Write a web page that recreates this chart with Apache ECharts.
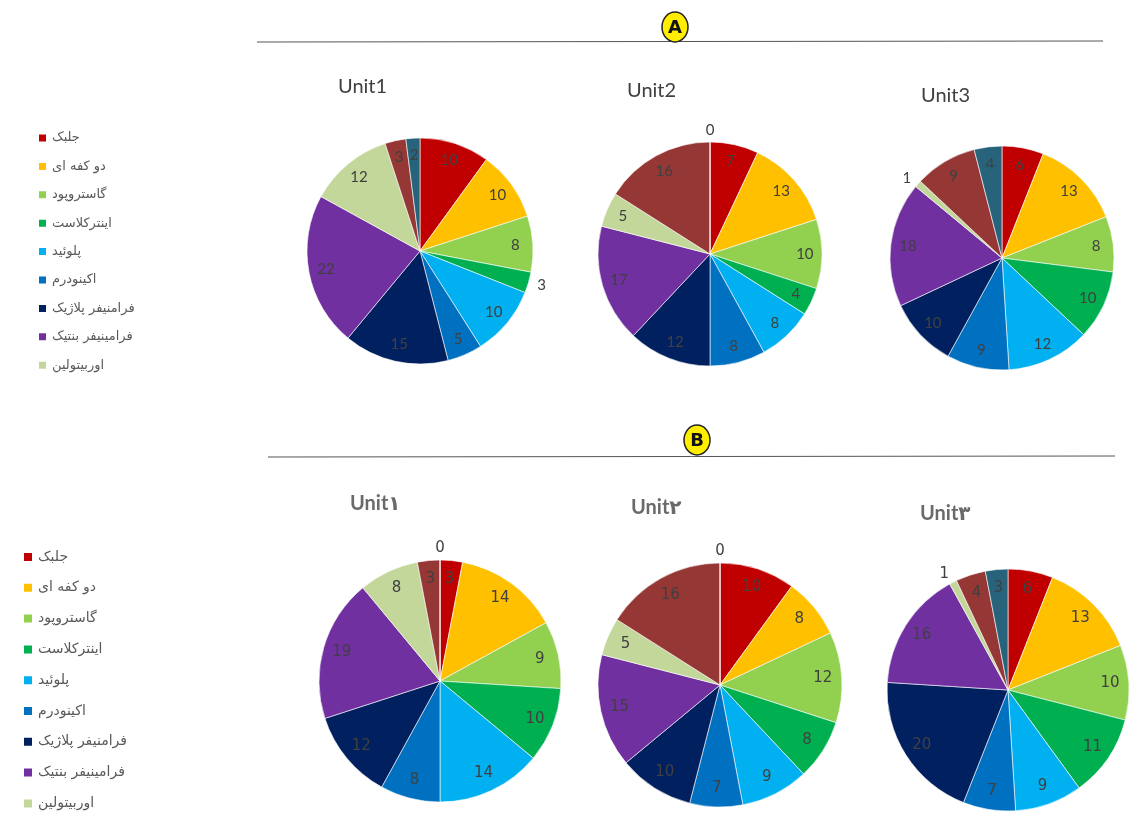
<!DOCTYPE html>
<html>
<head>
<meta charset="utf-8">
<script src="https://cdn.jsdelivr.net/npm/echarts@6/dist/echarts.min.js"></script>
<style>
  html, body { margin: 0; padding: 0; background: #fff; }
  #chart { width: 1143px; height: 813px; }
</style>
</head>
<body>
<div id="chart"></div>
<script>
// legend names (9 shown) + two unnamed slices that appear only in the pies
const categories = [
  'جلبک',
  'دو کفه ای',
  'گاستروپود',
  'اینترکلاست',
  'پلوئید',
  'اکینودرم',
  'فرامنیفر پلاژیک',
  'فرامینیفر بنتیک',
  'اوربیتولین',
  'other-a',
  'other-b'
];
const legendNames = categories.slice(0, 9);

const sliceColors = [
  '#c00000', '#ffc000', '#92d050', '#00b050', '#00b0f0',
  '#0070c0', '#002060', '#7030a0', '#c4d79b', '#953735', '#27647b'
];

// panel A
const unitA1 = [10, 10, 8, 3, 10, 5, 15, 22, 12, 3, 2];
const unitA2 = [7, 13, 10, 4, 8, 8, 12, 17, 5, 16, 0];
const unitA3 = [6, 13, 8, 10, 12, 9, 10, 18, 1, 9, 4];
// panel B
const unitB1 = [3, 14, 9, 10, 14, 8, 12, 19, 8, 3, 0];
const unitB2 = [10, 8, 12, 8, 9, 7, 10, 15, 5, 16, 0];
const unitB3 = [6, 13, 10, 11, 9, 7, 20, 16, 1, 4, 3];

const titlesA = ['Unit1', 'Unit2', 'Unit3'];
const titlesB = ['Unit۱', 'Unit۲', 'Unit۳'];

// layout of each pie (pixels) and which labels sit outside the pie
const pies = [
  { values: unitA1, center: [420, 251], r: 113, outside: [3], font: 'Lato' },
  { values: unitA2, center: [710, 254], r: 112, outside: [10], font: 'Lato' },
  { values: unitA3, center: [1002, 258], r: 112, outside: [8], font: 'Lato' },
  { values: unitB1, center: [440, 681], r: 121, outside: [10], font: 'DejaVu Sans' },
  { values: unitB2, center: [720, 685], r: 122, outside: [10], font: 'DejaVu Sans' },
  { values: unitB3, center: [1008, 690], r: 121, outside: [8], font: 'DejaVu Sans' }
];

const chart = echarts.init(document.getElementById('chart'));

const buildData = (p, withLabels) => p.values.map((v, i) => {
  const item = { name: categories[i], value: v };
  if (withLabels && p.outside.indexOf(i) >= 0) {
    item.label = { position: 'outside', distanceToLabelLine: 0 };
    item.labelLine = { show: false, length: v === 0 ? 12 : 9, length2: 0 };
  }
  return item;
});

const series = [];
// filled pies
pies.forEach((p) => {
  series.push({
    type: 'pie',
    center: p.center,
    radius: [0, p.r],
    startAngle: 90,
    clockwise: true,
    silent: true,
    color: sliceColors,
    avoidLabelOverlap: false,
    label: { show: false },
    labelLine: { show: false },
    itemStyle: { borderColor: '#ffffff', borderWidth: 0.6 },
    data: buildData(p, false)
  });
});
// label rings, so labels sit near the outer edge like the original
pies.forEach((p) => {
  series.push({
    type: 'pie',
    center: p.center,
    radius: [p.r * 0.64, p.r],
    startAngle: 90,
    clockwise: true,
    silent: true,
    avoidLabelOverlap: false,
    itemStyle: { color: 'rgba(0,0,0,0)', borderWidth: 0 },
    label: {
      show: true,
      position: 'inside',
      formatter: '{c}',
      color: '#404040',
      fontSize: 15,
      fontFamily: p.font
    },
    labelLine: { show: false },
    // zero slices sit at 12 o'clock: centre their label over the pie
    labelLayout: (params) => (p.values[params.dataIndex] === 0 ? { align: 'center' } : {}),
    data: buildData(p, true)
  });
});

const titleStyle = { fontSize: 20, fontWeight: 'normal', color: '#404040', fontFamily: 'Lato' };
const titleStyleB = { fontSize: 20, fontWeight: 'bold', color: '#6a6a6a', fontFamily: 'Lato, DejaVu Sans' };

chart.setOption({
  backgroundColor: '#ffffff',
  animation: false,
  title: [
    { text: titlesA[0], left: 333, top: 72, textStyle: titleStyle },
    { text: titlesA[1], left: 622, top: 76, textStyle: titleStyle },
    { text: titlesA[2], left: 916, top: 81, textStyle: titleStyle },
    { text: titlesB[0], left: 345, top: 489, textStyle: titleStyleB },
    { text: titlesB[1], left: 626, top: 493, textStyle: titleStyleB },
    { text: titlesB[2], left: 915, top: 499, textStyle: titleStyleB }
  ],
  legend: [
    {
      orient: 'vertical',
      left: 37,
      top: 131,
      height: 260,
      padding: 0,
      icon: 'rect',
      itemWidth: 9,
      itemHeight: 9,
      itemGap: 14.4,
      selectedMode: false,
      data: legendNames,
      textStyle: { fontSize: 13, lineHeight: 14, color: '#595959', fontFamily: 'DejaVu Sans' }
    },
    {
      orient: 'vertical',
      left: 22,
      top: 550,
      height: 263,
      padding: 0,
      icon: 'rect',
      itemWidth: 10,
      itemHeight: 10,
      itemGap: 16.8,
      selectedMode: false,
      data: legendNames,
      textStyle: { fontSize: 14, lineHeight: 14, color: '#595959', fontFamily: 'DejaVu Sans' }
    }
  ],
  graphic: [
    { type: 'line', shape: { x1: 257, y1: 42, x2: 1103, y2: 41 }, style: { stroke: '#555', lineWidth: 1 }, z: 1 },
    { type: 'ellipse', shape: { cx: 675, cy: 27, rx: 13, ry: 15 }, style: { fill: '#ffee00', stroke: '#222', lineWidth: 1.5 }, z: 2 },
    { type: 'text', x: 675, y: 28, style: { text: 'A', textAlign: 'center', textVerticalAlign: 'middle', align: 'center', verticalAlign: 'middle', font: 'bold 18px "DejaVu Sans"', fill: '#111' }, z: 3 },
    { type: 'line', shape: { x1: 268, y1: 457, x2: 1115, y2: 456 }, style: { stroke: '#555', lineWidth: 1 }, z: 1 },
    { type: 'ellipse', shape: { cx: 697, cy: 440, rx: 13, ry: 15 }, style: { fill: '#ffee00', stroke: '#222', lineWidth: 1.5 }, z: 2 },
    { type: 'text', x: 697, y: 441, style: { text: 'B', textAlign: 'center', textVerticalAlign: 'middle', align: 'center', verticalAlign: 'middle', font: 'bold 18px "DejaVu Sans"', fill: '#111' }, z: 3 }
  ],
  series: series
});
</script>
</body>
</html>
